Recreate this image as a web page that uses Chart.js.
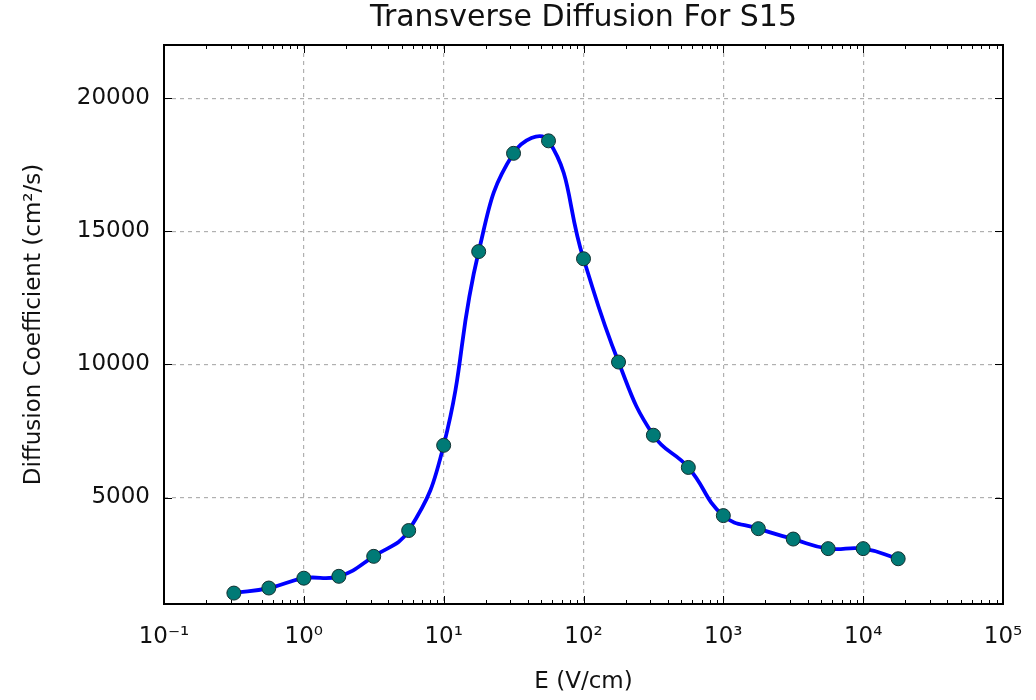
<!DOCTYPE html>
<html>
<head>
<meta charset="utf-8">
<script src="https://cdn.jsdelivr.net/npm/chart.js@4/dist/chart.umd.min.js"></script>
<style>
  html, body { margin: 0; padding: 0; background: #fff; }
  #wrap { width: 1036px; height: 700px; }
</style>
</head>
<body>
<div id="wrap"><canvas id="diffChart" width="1036" height="700"></canvas></div>
<script>
// field strength E (V/cm), log spaced
const fieldE = [0.316, 0.562, 1, 1.78, 3.16, 5.62, 10, 17.8, 31.6, 56.2,
                100, 178, 316, 562, 1000, 1780, 3160, 5620, 10000, 17800];
// transverse diffusion coefficient (cm^2/s)
const diffCoef = [1410, 1600, 1970, 2040, 2790, 3760, 6960, 14240, 17930, 18400,
                  13970, 10090, 7340, 6130, 4320, 3830, 3440, 3080, 3080, 2700];
const xMajorTicks = [0.1, 1, 10, 100, 1000, 10000, 100000];
const xTickLabels = ['10\u207B\u00B9', '10\u2070', '10\u00B9', '10\u00B2', '10\u00B3', '10\u2074', '10\u2075'];
const yMajorTicks = [5000, 10000, 15000, 20000];

const FONT = "'DejaVu Sans', sans-serif";

// inward tick marks on all four sides plus the black frame
const frameTicks = {
    id: 'frameTicks',
    afterDraw(chart) {
        const ctx = chart.ctx;
        const a = chart.chartArea;
        const xs = chart.scales.x, ys = chart.scales.y;
        ctx.save();
        ctx.strokeStyle = '#000';
        ctx.lineWidth = 1;
        ctx.beginPath();
        for (let k = -1; k <= 4; k++) {
            for (let m = 1; m < 10; m++) {
                const v = m * Math.pow(10, k);
                const px = Math.round(xs.getPixelForValue(v)) + 0.5;
                const len = m === 1 ? 8 : 4;
                ctx.moveTo(px, a.bottom); ctx.lineTo(px, a.bottom - len);
                ctx.moveTo(px, a.top); ctx.lineTo(px, a.top + len);
            }
        }
        yMajorTicks.forEach(function (v) {
            const py = Math.round(ys.getPixelForValue(v)) + 0.5;
            ctx.moveTo(a.left, py); ctx.lineTo(a.left + 8, py);
            ctx.moveTo(a.right, py); ctx.lineTo(a.right - 8, py);
        });
        ctx.stroke();
        ctx.lineWidth = 2;
        ctx.strokeRect(a.left, a.top, a.right - a.left, a.bottom - a.top);
        ctx.restore();
    }
};

const ctx = document.getElementById('diffChart').getContext('2d');
const diffChart = new Chart(ctx, {
    type: 'line',
    data: {
        datasets: [{
            data: fieldE.map(function (e, i) { return { x: e, y: diffCoef[i] }; }),
            borderColor: '#0000ff',
            borderWidth: 3.8,
            tension: 0.45,
            pointRadius: 7,
            pointBackgroundColor: '#007a76',
            pointBorderColor: '#123030',
            pointBorderWidth: 1,
            fill: false
        }]
    },
    options: {
        responsive: false,
        animation: false,
        layout: { padding: { left: 20, right: 33, top: 0, bottom: 4 } },
        plugins: {
            legend: { display: false },
            tooltip: { enabled: false },
            title: {
                display: true,
                text: 'Transverse Diffusion For S15',
                fullSize: false,
                color: '#111',
                font: { family: FONT, size: 30, weight: 'normal' },
                padding: { top: 0, bottom: 9 }
            }
        },
        scales: {
            x: {
                type: 'logarithmic',
                min: 0.1,
                max: 100000,
                afterBuildTicks: function (scale) {
                    scale.ticks = xMajorTicks.map(function (v) { return { value: v }; });
                },
                afterFit: function (scale) {
                    scale.height = 92;
                    scale.paddingLeft = 0;
                    scale.paddingRight = 0;
                },
                ticks: {
                    autoSkip: false,
                    maxRotation: 0,
                    padding: 19,
                    color: '#111',
                    font: { family: FONT, size: 23 },
                    callback: function (value, index) { return xTickLabels[index]; }
                },
                grid: { color: '#b0b0b0', lineWidth: 1.2, drawTicks: false },
                border: { display: false, dash: [4, 4] },
                title: {
                    display: true,
                    text: 'E (V/cm)',
                    color: '#111',
                    font: { family: FONT, size: 23 },
                    padding: { top: 12, bottom: 0 }
                }
            },
            y: {
                min: 1000,
                max: 22000,
                afterBuildTicks: function (scale) {
                    scale.ticks = yMajorTicks.map(function (v) { return { value: v }; });
                },
                afterFit: function (scale) { scale.width = 144; },
                ticks: {
                    padding: 14,
                    color: '#111',
                    font: { family: FONT, size: 23 },
                    callback: function (value) { return String(value); }
                },
                grid: { color: '#b0b0b0', lineWidth: 1.2, drawTicks: false },
                border: { display: false, dash: [4, 4] },
                title: {
                    display: true,
                    text: 'Diffusion Coefficient (cm\u00B2/s)',
                    color: '#111',
                    font: { family: FONT, size: 23 },
                    padding: { top: 0, bottom: 10 }
                }
            }
        }
    },
    plugins: [frameTicks]
});
</script>
</body>
</html>
